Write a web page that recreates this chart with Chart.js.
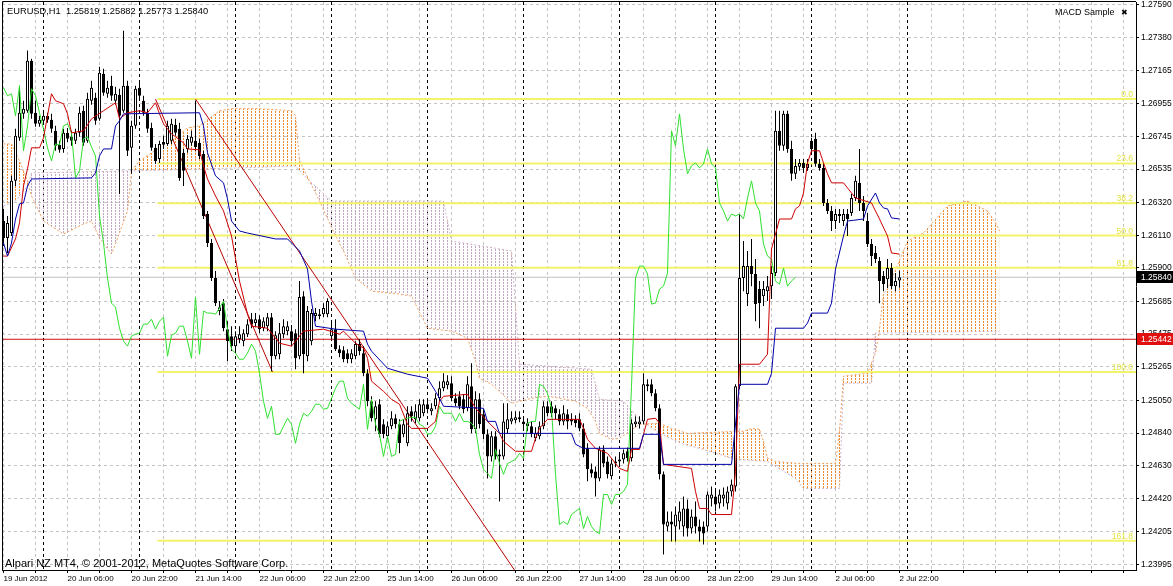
<!DOCTYPE html>
<html>
<head>
<meta charset="utf-8">
<script src="https://cdn.jsdelivr.net/npm/chart.js@4.4.1/dist/chart.umd.min.js"></script>
<style>
html, body { margin: 0; padding: 0; background: #fff; }
#wrap { width: 1173px; height: 586px; position: relative; }
</style>
</head>
<body>
<div id="wrap"><canvas id="chart"></canvas></div>
<script>
/* EURUSD H1 bars, bar 0 = 19 Jun 2012 14:00, one bar per hour (weekend skipped). */
/////////////////////////////////////////////////////////////////
const openPrice = [
1.26201,1.26092,1.26124,1.26459,1.26735,1.26889,1.26909,1.27230,1.26896,1.26825,
1.26844,1.26877,1.26851,1.26780,1.26690,1.26664,1.26767,1.26742,1.26716,1.26767,
1.26909,1.26716,1.26973,1.26992,1.26857,1.27147,1.27018,1.27069,1.26973,1.27012,
1.26909,1.27069,1.26671,1.26812,1.27057,1.26973,1.26896,1.26799,1.26671,1.26600,
1.26709,1.26696,1.26716,1.26819,1.26793,1.26639,1.26664,1.26703,1.26716,1.26703,
1.26632,1.26246,1.26060,1.25835,1.25623,1.25674,1.25507,1.25462,1.25398,1.25443,
1.25430,1.25475,1.25571,1.25546,1.25571,1.25513,1.25526,1.25584,1.25333,1.25346,
1.25475,1.25494,1.25494,1.25481,1.25333,1.25719,1.25333,1.25430,1.25591,1.25591,
1.25603,1.25603,1.25462,1.25507,1.25378,1.25372,1.25353,1.25314,1.25333,1.25411,
1.25353,1.25224,1.25044,1.24928,1.25025,1.24896,1.24819,1.24883,1.24935,1.24896,
1.24832,1.24774,1.24980,1.24928,1.24935,1.24967,1.25025,1.24980,1.25012,1.25063,
1.25128,1.25147,1.25160,1.25063,1.25076,1.25057,1.24999,1.25140,1.24864,1.25057,
1.24960,1.24832,1.24690,1.24819,1.24690,1.24690,1.24864,1.24915,1.24922,1.24928,
1.24915,1.24903,1.24883,1.24806,1.24819,1.24883,1.25012,1.25012,1.24999,1.24960,
1.24915,1.24960,1.24928,1.24928,1.24928,1.24870,1.24742,1.24607,1.24594,1.24549,
1.24735,1.24658,1.24562,1.24645,1.24658,1.24671,1.24723,1.24678,1.24896,1.24896,
1.24915,1.25153,1.25153,1.25095,1.24999,1.24575,1.24240,1.24272,1.24240,1.24272,
1.24240,1.24356,1.24227,1.24305,1.24240,1.24240,1.24240,1.24420,1.24433,1.24388,
1.24420,1.24388,1.24465,1.24497,1.25140,1.25835,1.25732,1.25912,1.25861,1.25764,
1.25719,1.25751,1.25783,1.25867,1.26780,1.26684,1.26889,1.26664,1.26504,1.26549,
1.26574,1.26542,1.26716,1.26729,1.26568,1.26542,1.26317,1.26266,1.26201,1.26246,
1.26201,1.26246,1.26253,1.26349,1.26446,1.26317,1.26201,1.26054,1.25996,1.25944,
1.25848,1.25828,1.25899,1.25783,1.25819];
const highPrice = [
1.26279,1.26234,1.26491,1.26793,1.27069,1.26973,1.27295,1.27243,1.26973,1.26877,
1.26909,1.26896,1.26889,1.26812,1.26716,1.26793,1.26799,1.26780,1.26793,1.26934,
1.26941,1.27024,1.27102,1.27024,1.27192,1.27179,1.27102,1.27134,1.27063,1.27050,
1.27423,1.27102,1.26844,1.27069,1.27089,1.27005,1.26922,1.26832,1.26696,1.26716,
1.26748,1.26844,1.26857,1.26857,1.26832,1.26664,1.26754,1.26780,1.26973,1.26729,
1.26652,1.26266,1.26086,1.25880,1.25687,1.25700,1.25558,1.25526,1.25494,1.25526,
1.25507,1.25571,1.25610,1.25610,1.25597,1.25584,1.25610,1.25610,1.25494,1.25546,
1.25571,1.25558,1.25533,1.25507,1.25816,1.25751,1.25655,1.25636,1.25642,1.25636,
1.25674,1.25706,1.25546,1.25571,1.25404,1.25398,1.25378,1.25378,1.25430,1.25443,
1.25398,1.25250,1.25076,1.25044,1.25057,1.24928,1.24915,1.24980,1.24960,1.24928,
1.24928,1.25012,1.25012,1.25025,1.25057,1.25057,1.25057,1.25031,1.25095,1.25173,
1.25224,1.25211,1.25205,1.25095,1.25108,1.25089,1.25205,1.25288,1.25108,1.25095,
1.24993,1.24864,1.24851,1.24851,1.24735,1.25031,1.25031,1.24980,1.24980,1.24980,
1.24941,1.24935,1.24915,1.24877,1.24915,1.25044,1.25044,1.25044,1.25018,1.24993,
1.25018,1.24993,1.24967,1.24954,1.24967,1.24903,1.24774,1.24645,1.24626,1.24755,
1.24761,1.24690,1.24671,1.24690,1.24710,1.24735,1.24748,1.24928,1.24948,1.24948,
1.25224,1.25186,1.25186,1.25121,1.25025,1.24594,1.24337,1.24337,1.24369,1.24401,
1.24433,1.24414,1.24350,1.24401,1.24285,1.24272,1.24465,1.24497,1.24478,1.24478,
1.24491,1.24497,1.24542,1.25153,1.26246,1.26073,1.26009,1.26086,1.25957,1.25816,
1.25816,1.25848,1.25912,1.26909,1.26909,1.26909,1.26909,1.26716,1.26600,1.26600,
1.26600,1.26600,1.26735,1.26767,1.26600,1.26568,1.26343,1.26298,1.26279,1.26279,
1.26279,1.26279,1.26375,1.26491,1.26664,1.26362,1.26253,1.26086,1.26041,1.25970,
1.25880,1.25957,1.25931,1.25867,1.25882];
const lowPrice = [
1.26041,1.25996,1.26105,1.26426,1.26716,1.26857,1.26896,1.26857,1.26806,1.26806,
1.26832,1.26832,1.26767,1.26652,1.26639,1.26639,1.26709,1.26684,1.26696,1.26742,
1.26684,1.26703,1.26947,1.26819,1.26844,1.27005,1.26992,1.26973,1.26947,1.26375,
1.26896,1.26619,1.26504,1.26793,1.26973,1.26877,1.26767,1.26652,1.26568,1.26574,
1.26664,1.26684,1.26696,1.26748,1.26459,1.26426,1.26639,1.26684,1.26652,1.26600,
1.26214,1.26034,1.25816,1.25655,1.25597,1.25494,1.25301,1.25366,1.25366,1.25417,
1.25398,1.25456,1.25513,1.25520,1.25481,1.25494,1.25494,1.25237,1.25314,1.25314,
1.25449,1.25468,1.25398,1.25250,1.25314,1.25224,1.25301,1.25404,1.25558,1.25571,
1.25584,1.25584,1.25443,1.25366,1.25327,1.25295,1.25288,1.25288,1.25314,1.25340,
1.25205,1.25012,1.24915,1.24851,1.24813,1.24806,1.24800,1.24864,1.24870,1.24710,
1.24813,1.24755,1.24915,1.24903,1.24915,1.24948,1.24967,1.24954,1.24993,1.25044,
1.25108,1.25121,1.25044,1.25012,1.24993,1.24967,1.24980,1.24838,1.24838,1.24870,
1.24800,1.24549,1.24658,1.24671,1.24401,1.24671,1.24838,1.24896,1.24903,1.24909,
1.24864,1.24851,1.24813,1.24787,1.24800,1.24864,1.24948,1.24941,1.24928,1.24890,
1.24890,1.24864,1.24890,1.24877,1.24851,1.24684,1.24530,1.24555,1.24433,1.24530,
1.24620,1.24549,1.24542,1.24620,1.24633,1.24645,1.24658,1.24658,1.24877,1.24870,
1.24896,1.25108,1.25076,1.24980,1.24542,1.24060,1.24208,1.24144,1.24144,1.24221,
1.24176,1.24176,1.24195,1.24195,1.24144,1.24125,1.24208,1.24369,1.24337,1.24356,
1.24369,1.24350,1.24433,1.24465,1.25121,1.25751,1.25655,1.25783,1.25558,1.25513,
1.25655,1.25687,1.25700,1.25848,1.26652,1.26652,1.26639,1.26459,1.26471,1.26523,
1.26510,1.26523,1.26639,1.26549,1.26523,1.26298,1.26246,1.26137,1.26150,1.26189,
1.26169,1.26105,1.26234,1.26330,1.26266,1.26201,1.26034,1.25912,1.25931,1.25674,
1.25751,1.25771,1.25764,1.25751,1.25773];
const closePrice = [
1.26092,1.26189,1.26459,1.26748,1.26896,1.26922,1.27230,1.26889,1.26825,1.26851,
1.26877,1.26851,1.26793,1.26684,1.26658,1.26767,1.26729,1.26716,1.26767,1.26896,
1.26703,1.26986,1.27057,1.26844,1.27153,1.27024,1.27057,1.27005,1.27018,1.26877,
1.27069,1.26652,1.26812,1.27050,1.27005,1.26896,1.26793,1.26671,1.26587,1.26696,
1.26690,1.26812,1.26825,1.26767,1.26478,1.26523,1.26729,1.26742,1.26677,1.26619,
1.26234,1.26060,1.25835,1.25674,1.25648,1.25513,1.25430,1.25398,1.25462,1.25475,
1.25481,1.25539,1.25539,1.25571,1.25507,1.25558,1.25584,1.25333,1.25468,1.25481,
1.25526,1.25526,1.25430,1.25320,1.25713,1.25346,1.25623,1.25610,1.25610,1.25603,
1.25642,1.25687,1.25507,1.25378,1.25353,1.25314,1.25314,1.25353,1.25411,1.25366,
1.25224,1.25044,1.24935,1.25012,1.24832,1.24832,1.24883,1.24935,1.24896,1.24774,
1.24896,1.24967,1.24948,1.24980,1.25025,1.25025,1.24993,1.24999,1.25063,1.25128,
1.25173,1.25173,1.25063,1.25031,1.25012,1.24993,1.25153,1.24864,1.25057,1.24896,
1.24832,1.24690,1.24819,1.24690,1.24703,1.24915,1.24928,1.24935,1.24941,1.24941,
1.24896,1.24883,1.24832,1.24838,1.24883,1.25012,1.24967,1.24967,1.24967,1.24915,
1.24967,1.24915,1.24915,1.24903,1.24870,1.24703,1.24607,1.24581,1.24549,1.24735,
1.24645,1.24575,1.24645,1.24658,1.24671,1.24710,1.24678,1.24903,1.24915,1.24915,
1.25153,1.25140,1.25095,1.24999,1.24575,1.24253,1.24272,1.24253,1.24317,1.24337,
1.24356,1.24227,1.24305,1.24240,1.24208,1.24195,1.24446,1.24446,1.24382,1.24446,
1.24446,1.24465,1.24510,1.25140,1.25835,1.25912,1.25912,1.25861,1.25668,1.25674,
1.25764,1.25783,1.25867,1.26780,1.26684,1.26889,1.26664,1.26504,1.26555,1.26574,
1.26542,1.26568,1.26664,1.26568,1.26542,1.26317,1.26266,1.26201,1.26246,1.26234,
1.26246,1.26214,1.26349,1.26459,1.26317,1.26266,1.26054,1.25976,1.25957,1.25816,
1.25796,1.25899,1.25783,1.25816,1.25840];

/* Ichimoku lines: bar index + price at each vertex. */
/////////////////////////////////////////////////////////////////
const tenkanBar = [0,1,3,4,5,6,7,9,10,11,12,13,15,16,17,20,22,25,28,29,31,34,36,38,39,40,42,45,46,49,
50,51,53,55,57,59,61,62,66,69,72,75,80,84,85,88,90,91,92,95,97,99,101,102,106,108,109,110,116,118,
121,124,125,128,132,133,134,136,144,145,146,148,151,154,156,157,159,160,161,163,164,165,172,173,174,176,177,182,183,184,
189,191,192,194,197,198,199,200,201,202,204,205,206,207,210,212,213,217,219,221,222,224];
const tenkanVal = [1.25976,1.25976,1.26086,1.26189,1.26426,1.26536,1.26671,1.26671,1.26735,1.26877,
1.27018,1.26973,1.26954,1.26889,1.26767,1.26780,1.26857,1.26909,1.26960,1.26857,
1.26896,1.26909,1.26896,1.26960,1.26889,1.26825,1.26761,1.26703,1.26664,1.26658,
1.26555,1.26471,1.26362,1.26266,1.26105,1.25816,1.25603,1.25526,1.25513,1.25417,
1.25398,1.25494,1.25507,1.25475,1.25494,1.25417,1.25385,1.25320,1.25173,1.25108,
1.25057,1.25025,1.24896,1.24870,1.24870,1.24915,1.25044,1.25076,1.25089,1.24999,
1.24915,1.24838,1.24787,1.24723,1.24723,1.24806,1.24870,1.24928,1.24928,1.24870,
1.24800,1.24742,1.24710,1.24613,1.24594,1.24735,1.24735,1.24832,1.24928,1.24935,
1.24903,1.24639,1.24613,1.24465,1.24356,1.24356,1.24317,1.24317,1.24594,1.25282,
1.25282,1.25346,1.26021,1.26214,1.26214,1.26279,1.26298,1.26381,1.26574,1.26652,
1.26652,1.26574,1.26504,1.26446,1.26446,1.26381,1.26349,1.26317,1.26214,1.26105,
1.25996,1.25989];
const kijunBar = [0,1,2,3,4,5,6,7,22,23,24,25,27,28,29,30,49,50,51,53,55,56,57,59,61,68,71,74,76,77,
78,83,90,91,92,96,101,106,108,109,110,120,121,123,124,142,143,145,159,160,164,165,182,184,191,192,193,200,201,202,
206,207,208,210,211,215,216,218,219,220,221,222,224];
const kijunVal = [1.26060,1.25976,1.26060,1.26214,1.26311,1.26317,1.26426,1.26471,1.26478,1.26510,
1.26619,1.26664,1.26664,1.26812,1.26844,1.26889,1.26896,1.26812,1.26639,1.26491,
1.26446,1.26343,1.26201,1.26137,1.26124,1.26086,1.26086,1.26009,1.25893,1.25687,
1.25526,1.25507,1.25494,1.25411,1.25366,1.25256,1.25218,1.25192,1.25108,1.25063,
1.25012,1.24999,1.24915,1.24915,1.24838,1.24838,1.24768,1.24742,1.24742,1.24832,
1.24832,1.24639,1.24639,1.25153,1.25153,1.25224,1.25513,1.25513,1.25546,1.25610,
1.25610,1.25674,1.25893,1.26105,1.26201,1.26214,1.26298,1.26381,1.26317,1.26285,
1.26279,1.26221,1.26214];
const spanABar = [0,2,4,6,7,10,15,20,22,24,27,28,31,32,34,37,42,46,49,54,57,64,72,73,74,79,83,85,88,92,
99,102,106,112,116,118,119,122,124,127,132,136,139,143,146,148,149,152,154,159,164,167,171,183,185,187,189,190,191,193,
199,208,209,210,216,218,219,220,221,226,230,236,241,246,248,249];
const spanAVal = [1.26696,1.26696,1.26587,1.26459,1.26362,1.26201,1.26118,1.26182,1.26201,1.26092,
1.25989,1.26054,1.26266,1.26523,1.26587,1.26639,1.26716,1.26799,1.26812,1.26909,
1.26922,1.26922,1.26909,1.26877,1.26587,1.26330,1.26105,1.26009,1.25835,1.25751,
1.25732,1.25719,1.25513,1.25494,1.25449,1.25301,1.25192,1.25153,1.25108,1.25031,
1.25063,1.25076,1.25063,1.25044,1.24999,1.24915,1.24838,1.24800,1.24806,1.24896,
1.24903,1.24870,1.24838,1.24851,1.24851,1.24870,1.24864,1.24787,1.24678,1.24658,
1.24645,1.24645,1.24851,1.25205,1.25224,1.25353,1.25507,1.25738,1.25764,1.26073,
1.26124,1.26298,1.26330,1.26266,1.26189,1.26137];
const spanBBar = [0,3,6,7,32,52,73,76,82,110,112,127,129,147,149,155,159,164,170,174,179,183,191,198,200,209,210,217,218,249];
const spanBVal = [1.26298,1.26330,1.26426,1.26510,1.26523,1.26536,1.26555,1.26471,1.26330,1.26330,
1.26073,1.26009,1.25282,1.25250,1.25057,1.25044,1.24928,1.24838,1.24768,1.24742,
1.24703,1.24671,1.24658,1.24549,1.24485,1.24485,1.25160,1.25160,1.25481,1.25494];
const chikouShift = 26;

/* Axis ticks and labels. */
/////////////////////////////////////////////////////////////////
const priceTicks = [1.27590,1.27380,1.27165,1.26955,1.26745,1.26535,1.26320,1.26110,1.25900,
1.25685,1.25475,1.25265,1.25050,1.24840,1.24630,1.24420,1.24205,1.23995];
const labelBars = [0,16,32,48,64,80,96,112,128,144,160,176,192,208,224];
const timeLabels = ['19 Jun 2012','20 Jun 06:00','20 Jun 22:00','21 Jun 14:00','22 Jun 06:00',
'22 Jun 22:00','25 Jun 14:00','26 Jun 06:00','26 Jun 22:00','27 Jun 14:00','28 Jun 06:00',
'28 Jun 22:00','29 Jun 14:00','2 Jul 06:00','2 Jul 22:00'];
const separatorBars = [10,34,58,82,106,130,154,178,202,226];

/* Drawn objects: fibo, trend lines, horizontal line. */
/////////////////////////////////////////////////////////////////
const fiboLevels = [0, 23.6, 38.2, 50, 61.8, 100, 161.8];
const fiboHigh = 1.26984;
const fiboLow = 1.25232;
const fiboStartBar = 38.5;
const trend1 = [[38, 1.26984], [67.25, 1.25232]];
const trend2 = [[48, 1.26984], [128, 1.23951]];
const redLevel = 1.25442;

const xMin = -0.375, xMax = 283.125;
const yMin = 1.23961, yMax = 1.27607;
const FONT = '"Liberation Sans", Arial, sans-serif';

/////////////////////////////////////////////////////////////////
function pts(bars, vals) {
    return bars.map((b, i) => ({x: b, y: vals[i]}));
}
/* vertical dotted hatch, one column per bar like the MT4 cloud */
function dotPattern(color) {
    const c = document.createElement('canvas');
    c.width = 4; c.height = 3;
    const g = c.getContext('2d');
    g.fillStyle = color;
    g.fillRect(3, 0, 1, 2);
    return g.createPattern(c, 'repeat');
}
const sandy = '#f0a060';
const thistle = '#cdb5cd';
const sandyFill = dotPattern('#f08a2c');
const thistleFill = dotPattern('#c0a6c0');

const last = closePrice.length - 1;
const bidPrice = closePrice[last];
const header = 'EURUSD,H1  ' + [openPrice[last], highPrice[last], lowPrice[last], closePrice[last]]
    .map(v => v.toFixed(5)).join(' ');

const wickData = highPrice.map((h, i) => ({x: i, y: [lowPrice[i], h]}));
const bodyData = openPrice.map((o, i) => ({x: i, y: [o, closePrice[i]]}));
const bodyColor = openPrice.map((o, i) => closePrice[i] >= o ? '#ffffff' : '#000000');
const chikouData = closePrice.slice(chikouShift).map((c, i) => ({x: i, y: c}));

const fiboSets = fiboLevels.map(lv => {
    const p = fiboHigh - (fiboHigh - fiboLow) * lv / 100;
    return {type: 'line', data: [{x: fiboStartBar, y: p}, {x: xMax, y: p}],
        borderColor: '#f3f36a', borderWidth: 2, order: 9};
});

/* Separators, texts, fibo captions and price boxes. */
/////////////////////////////////////////////////////////////////
const mtExtras = {
    id: 'mtExtras',
    beforeDatasetsDraw(chart) {
        const {ctx, chartArea: a, scales: {x}} = chart;
        ctx.save();
        ctx.strokeStyle = '#000';
        ctx.lineWidth = 1;
        ctx.setLineDash([3, 3]);
        separatorBars.forEach(b => {
            const px = Math.floor(x.getPixelForValue(b)) + 0.5;
            ctx.beginPath();
            ctx.moveTo(px, a.top);
            ctx.lineTo(px, a.bottom);
            ctx.stroke();
        });
        ctx.restore();
    },
    afterDraw(chart) {
        const {ctx, chartArea: a, scales: {y}} = chart;
        ctx.save();
        // frame
        ctx.strokeStyle = '#000';
        ctx.lineWidth = 1;
        ctx.beginPath();
        ctx.moveTo(a.left + 0.5, a.bottom);
        ctx.lineTo(a.left + 0.5, a.top - 0.5);
        ctx.lineTo(a.right, a.top - 0.5);
        ctx.stroke();

        // fibo captions
        ctx.font = '8.5px ' + FONT;
        ctx.fillStyle = '#e4e440';
        ctx.textAlign = 'right';
        ctx.textBaseline = 'alphabetic';
        fiboLevels.forEach(lv => {
            const p = fiboHigh - (fiboHigh - fiboLow) * lv / 100;
            ctx.fillText(lv.toFixed(1), a.right - 3, y.getPixelForValue(p) - 2);
        });

        // texts
        ctx.fillStyle = '#000';
        ctx.textAlign = 'left';
        ctx.textBaseline = 'middle';
        ctx.font = '9.3px ' + FONT;
        ctx.fillText(header, 7, 11);
        ctx.font = '9px ' + FONT;
        ctx.fillText('MACD Sample', 1055, 12.5);
        ctx.font = 'bold 8px "DejaVu Sans"';
        ctx.fillText('\u2716', 1121, 12.5);
        ctx.font = '11px ' + FONT;
        ctx.fillText('Alpari NZ MT4, \u00a9 2001-2012, MetaQuotes Software Corp.', 5, 564);

        // price boxes on the axis
        const box = (v, bg) => {
            const py = Math.round(y.getPixelForValue(v));
            ctx.fillStyle = bg;
            ctx.fillRect(a.right + 1, py - 6, chart.width - a.right - 1, 12);
            ctx.fillStyle = '#fff';
            ctx.font = '8.5px ' + FONT;
            ctx.fillText(v.toFixed(5), a.right + 5, py + 0.5);
        };
        box(bidPrice, '#000000');
        box(redLevel, '#e01010');
        ctx.restore();
    }
};

/////////////////////////////////////////////////////////////////
const gridBars = [];
for (let b = 0; b <= 280; b += 8) gridBars.push(b);

const ctx = document.getElementById('chart');
const chartMT = new Chart(ctx, {
    type: 'line',
    data: {
        datasets: [
            /* cloud: sandy where span A is on top, thistle where span B is on top */
            {type: 'line', data: pts(spanABar, spanAVal), borderColor: sandy, borderWidth: 1,
                borderDash: [2, 2], backgroundColor: sandyFill,
                fill: {target: '+1', above: sandyFill, below: 'rgba(0,0,0,0)'}, order: 10},
            {type: 'line', data: pts(spanBBar, spanBVal), borderColor: thistle, borderWidth: 1,
                borderDash: [2, 2], backgroundColor: thistleFill,
                fill: {target: '-1', above: thistleFill, below: 'rgba(0,0,0,0)'}, order: 10},
            ...fiboSets,
            {type: 'line', data: trend1.map(p => ({x: p[0], y: p[1]})), borderColor: '#b80000', borderWidth: 1, order: 8},
            {type: 'line', data: trend2.map(p => ({x: p[0], y: p[1]})), borderColor: '#b80000', borderWidth: 1, order: 8},
            {type: 'line', data: [{x: xMin, y: redLevel}, {x: xMax, y: redLevel}], borderColor: '#d01010', borderWidth: 1, order: 8},
            {type: 'line', data: [{x: xMin, y: bidPrice}, {x: xMax, y: bidPrice}], borderColor: '#c0c0c0', borderWidth: 1, order: 8},
            {type: 'bar', data: wickData, backgroundColor: '#000', borderWidth: 0, barThickness: 1,
                grouped: false, inflateAmount: 0, order: 5},
            {type: 'bar', data: bodyData, backgroundColor: bodyColor, borderColor: '#000', borderWidth: 1,
                borderSkipped: false, barThickness: 3, minBarLength: 1, grouped: false, inflateAmount: 0, order: 4},
            {type: 'line', data: chikouData, borderColor: '#2ee02e', borderWidth: 1, order: 2},
            {type: 'line', data: pts(kijunBar, kijunVal), borderColor: '#0000a8', borderWidth: 1, order: 1},
            {type: 'line', data: pts(tenkanBar, tenkanVal), borderColor: '#cc0000', borderWidth: 1, order: 1}
        ]
    },
    options: {
        responsive: true,
        maintainAspectRatio: false,
        animation: false,
        events: [],
        layout: {padding: {left: 2, top: 2, right: 0, bottom: 0}},
        elements: {point: {radius: 0}, line: {tension: 0}},
        plugins: {legend: {display: false}, tooltip: {enabled: false}},
        scales: {
            x: {
                type: 'linear', position: 'bottom', min: xMin, max: xMax, offset: false,
                afterBuildTicks: s => { s.ticks = gridBars.map(v => ({value: v})); },
                afterFit: s => { s.height = 16; s.paddingLeft = 0; s.paddingRight = 0; },
                grid: {color: '#c4c4c4', lineWidth: 1, offset: false, drawTicks: true, tickLength: 3, tickColor: '#000', tickBorderDash: []},
                border: {display: true, color: '#000', dash: [3, 3]},
                ticks: {autoSkip: false, maxRotation: 0, align: 'start', padding: 1, color: '#000',
                    font: {family: FONT, size: 8},
                    callback: v => { const k = labelBars.indexOf(v); return k >= 0 ? timeLabels[k] : ''; }}
            },
            y: {
                type: 'linear', position: 'right', min: yMin, max: yMax, beginAtZero: false,
                afterBuildTicks: s => { s.ticks = priceTicks.map(v => ({value: v})); },
                afterFit: s => { s.width = 37; s.paddingTop = 0; s.paddingBottom = 0; },
                grid: {color: '#c4c4c4', lineWidth: 1, drawTicks: true, tickLength: 3, tickColor: '#000', tickBorderDash: []},
                border: {display: true, color: '#000', dash: [3, 3]},
                ticks: {autoSkip: false, padding: 2, color: '#000', font: {family: FONT, size: 8.5},
                    callback: v => v.toFixed(5)}
            }
        }
    },
    plugins: [mtExtras]
});
/////////////////////////////////////////////////////////////////
</script>
</body>
</html>
